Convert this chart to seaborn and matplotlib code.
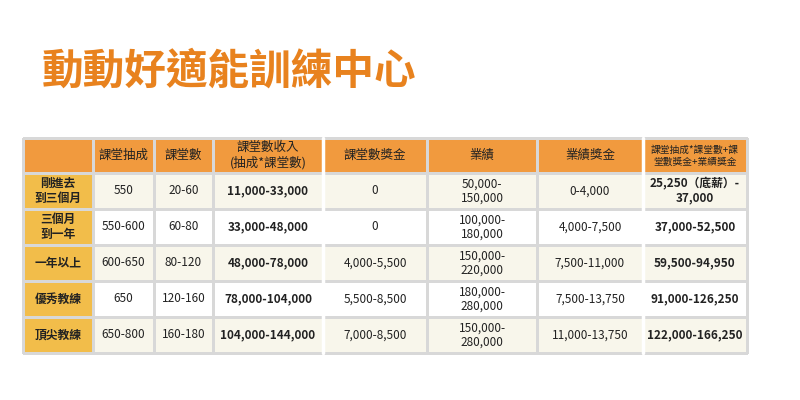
import numpy as np
import matplotlib.pyplot as plt
from matplotlib.colors import ListedColormap
import seaborn as sns

sns.set_style("white")
plt.rcParams['font.family'] = 'Noto Sans CJK TC'

title = "動動好適能訓練中心"
headers = ["", "課堂抽成", "課堂數", "課堂數收入\n(抽成*課堂數)", "課堂數獎金", "業績", "業績獎金",
           "課堂抽成*課堂數+課\n堂數獎金+業績獎金"]
levels = ["剛進去\n到三個月", "三個月\n到一年", "一年以上", "優秀教練", "頂尖教練"]
commission = ["550", "550-600", "600-650", "650", "650-800"]
class_count = ["20-60", "60-80", "80-120", "120-160", "160-180"]
class_income = ["11,000-33,000", "33,000-48,000", "48,000-78,000", "78,000-104,000", "104,000-144,000"]
class_bonus = ["0", "0", "4,000-5,500", "5,500-8,500", "7,000-8,500"]
sales = ["50,000-\n150,000", "100,000-\n180,000", "150,000-\n220,000", "180,000-\n280,000", "150,000-\n280,000"]
sales_bonus = ["0-4,000", "4,000-7,500", "7,500-11,000", "7,500-13,750", "11,000-13,750"]
total = ["25,250（底薪）-\n37,000", "37,000-52,500", "59,500-94,950", "91,000-126,250", "122,000-166,250"]

columns = [levels, commission, class_count, class_income, class_bonus, sales, sales_bonus, total]
bold_cols = {0, 3, 7}

# layout in pixel coordinates
x_edges = np.array([23, 93, 154, 213, 323, 427, 537, 643, 747])
y_edges = np.array([138, 173, 209, 245, 281, 317, 353])

fig = plt.figure(figsize=(8, 4), dpi=100)
ax = fig.add_axes([0, 0, 1, 1])
ax.set_xlim(0, 800)
ax.set_ylim(400, 0)
ax.axis('off')

n_rows = len(levels) + 1
n_cols = len(columns)
codes = np.zeros((n_rows, n_cols))
for r in range(1, n_rows):
    codes[r, 0] = 1
    codes[r, 1:] = 2 if r % 2 == 1 else 3
cmap = ListedColormap(["#F19A3E", "#F2BD4A", "#F8F6EB", "#FFFFFF"])
ax.pcolormesh(x_edges, y_edges, codes, cmap=cmap, vmin=-0.5, vmax=3.5,
              edgecolor="#D8D8D8", linewidth=0.8)
for xv in [323, 643]:
    ax.plot([xv, xv], [138, 353], color="white", lw=2.5)

for c in range(n_cols):
    xc = (x_edges[c] + x_edges[c + 1]) / 2
    hsize = 7 if c == 7 else 9
    ax.text(xc, (y_edges[0] + y_edges[1]) / 2, headers[c], ha='center', va='center',
            fontsize=hsize, color="#222222", linespacing=1.2)
    for r, val in enumerate(columns[c]):
        yc = (y_edges[r + 1] + y_edges[r + 2]) / 2
        ax.text(xc, yc, val, ha='center', va='center', fontsize=8.5,
                fontweight='bold' if c in bold_cols else 'normal',
                color="#222222", linespacing=1.15)

ax.text(42, 72, title, ha='left', va='center', fontsize=30, fontweight='bold', color="#E8821E")

fig.savefig("out.png", dpi=100)
